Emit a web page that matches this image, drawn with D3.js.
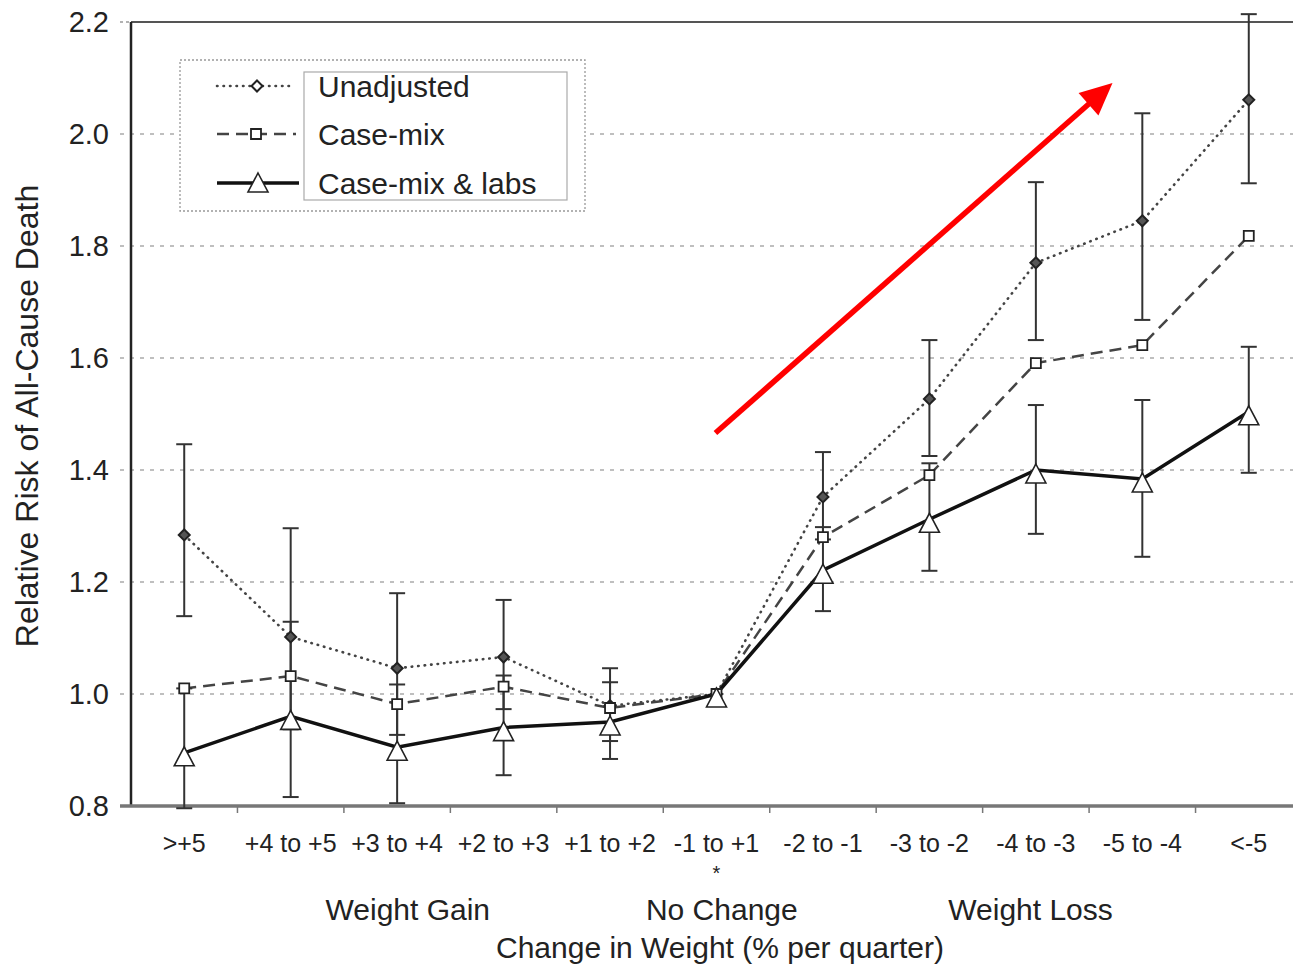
<!DOCTYPE html>
<html><head><meta charset="utf-8">
<script src="https://cdn.jsdelivr.net/npm/d3@7"></script>
<style>body{margin:0;background:#fff}svg{display:block}text{font-family:"Liberation Sans",Arial,sans-serif;fill:#222}</style>
</head><body><svg id="c" width="1293" height="969"></svg>
<script>
const categories = [">+5","+4 to +5","+3 to +4","+2 to +3","+1 to +2","-1 to +1","-2 to -1","-3 to -2","-4 to -3","-5 to -4","<-5"];
const unadjusted    = [1.284,1.102,1.046,1.066,0.979,1.0,1.352,1.527,1.770,1.845,2.061];
const unadjLower    = [1.139,0.937,0.927,0.973,0.916,null,1.276,1.425,1.632,1.668,1.912];
const unadjUpper    = [1.446,1.296,1.180,1.168,1.046,null,1.432,1.632,1.914,2.037,2.214];
const caseMix       = [1.010,1.032,0.982,1.013,0.975,1.0,1.280,1.391,1.591,1.623,1.818];
const caseMixLabs   = [0.895,0.960,0.905,0.940,0.950,1.0,1.221,1.312,1.400,1.384,1.504];
const cmlLower      = [0.796,0.816,0.805,0.855,0.884,null,1.148,1.220,1.286,1.245,1.395];
const cmlUpper      = [1.010,1.129,1.017,1.033,1.021,null,1.298,1.412,1.516,1.525,1.620];
const yTicks = [0.8,1.0,1.2,1.4,1.6,1.8,2.0,2.2];
const groupLabels = ["Weight Gain","No Change","Weight Loss"];
const groupAt = [2.1,5.05,7.95];
const legendLabels = ["Unadjusted","Case-mix","Case-mix & labs"];
const arrowFrom = [4.99,1.466], arrowTo = [8.72,2.091];

const svg = d3.select("#c");
const x = d3.scaleBand().domain(categories).range([131,1302]).padding(0);
const bw = x.bandwidth();
const cx = c => x(c)+bw/2;
const xi = d3.scaleLinear().domain([0,10]).range([cx(categories[0]), cx(categories[10])]);
const y = d3.scaleLinear().domain([0.8,2.2]).range([806,22]);

// gridlines
svg.append("g").selectAll("line").data(yTicks.filter(v=>v>0.81&&v<2.19)).join("line")
  .attr("x1",120).attr("x2",1293).attr("y1",d=>y(d)).attr("y2",d=>y(d))
  .attr("stroke","#aaa").attr("stroke-width",1.6).attr("stroke-dasharray","4,6");
// top border
svg.append("line").attr("x1",120).attr("x2",131).attr("y1",y(2.2)).attr("y2",y(2.2)).attr("stroke","#999").attr("stroke-width",1.5).attr("stroke-dasharray","3,3");
svg.append("line").attr("x1",131).attr("x2",1293).attr("y1",y(2.2)).attr("y2",y(2.2)).attr("stroke","#555").attr("stroke-width",2.2);
// left axis
svg.append("line").attr("x1",131).attr("x2",131).attr("y1",y(2.2)).attr("y2",y(0.8)+1).attr("stroke","#222").attr("stroke-width",2.5);
// bottom axis
svg.append("line").attr("x1",120).attr("x2",1293).attr("y1",y(0.8)).attr("y2",y(0.8)).attr("stroke","#777").attr("stroke-width",3.5);
svg.append("g").selectAll("line").data(categories.slice(1)).join("line")
  .attr("x1",d=>x(d)).attr("x2",d=>x(d)).attr("y1",y(0.8)).attr("y2",y(0.8)+7).attr("stroke","#777").attr("stroke-width",1.5);

// y tick labels
const yAx = svg.append("g").attr("transform","translate(109,0)").call(d3.axisLeft(y).tickValues(yTicks).tickFormat(d3.format(".1f")).tickSize(0).tickPadding(0));
yAx.select(".domain").remove();
yAx.selectAll("text").style("font-size","29px").style("font-family","'Liberation Sans',Arial,sans-serif").attr("fill","#222");

// x tick labels
svg.append("g").selectAll("text").data(categories).join("text")
  .attr("x",d=>cx(d)).attr("y",852).attr("text-anchor","middle").style("font-size","25px").text(d=>d);
svg.append("text").attr("x",cx(categories[5])).attr("y",880).attr("text-anchor","middle").style("font-size","20px").text("*");
svg.append("g").selectAll("text").data(groupLabels).join("text")
  .attr("x",(d,i)=>xi(groupAt[i])).attr("y",920).attr("text-anchor","middle").style("font-size","30px").text(d=>d);
svg.append("text").attr("x",720).attr("y",958).attr("text-anchor","middle").style("font-size","30px").text("Change in Weight (% per quarter)");
svg.append("text").attr("transform",`translate(38,${y(1.5)+2}) rotate(-90)`).attr("text-anchor","middle").style("font-size","32px").text("Relative Risk of All-Cause Death");

// lines
const line = d3.line().x((d,i)=>cx(categories[i])).y(d=>y(d));
svg.append("path").attr("d",line(unadjusted)).attr("fill","none").attr("stroke","#444").attr("stroke-width",2.6).attr("stroke-dasharray","0.5,6").attr("stroke-linecap","round");
svg.append("path").attr("d",line(caseMix)).attr("fill","none").attr("stroke","#444").attr("stroke-width",2.5).attr("stroke-dasharray","12,7");
svg.append("path").attr("d",line(caseMixLabs)).attr("fill","none").attr("stroke","#111").attr("stroke-width",3.5);

// error bars
function errBars(lo,hi){
  const g = svg.append("g").attr("stroke","#333").attr("stroke-width",2);
  categories.forEach((c,i)=>{
    if(lo[i]==null) return;
    const X = cx(c);
    g.append("line").attr("x1",X).attr("x2",X).attr("y1",y(lo[i])).attr("y2",y(hi[i]));
    g.append("line").attr("x1",X-8).attr("x2",X+8).attr("y1",y(lo[i])).attr("y2",y(lo[i]));
    g.append("line").attr("x1",X-8).attr("x2",X+8).attr("y1",y(hi[i])).attr("y2",y(hi[i]));
  });
}
errBars(unadjLower,unadjUpper);
errBars(cmlLower,cmlUpper);

// markers
const diamond = "M0,-5.5L5.5,0L0,5.5L-5.5,0Z";
const square = "M-5,-5H5V5H-5Z";
const tri = "M0,-6L10,13H-10Z";
function markers(vals,path,sw,fill){
  svg.append("g").selectAll("path").data(vals).join("path")
    .attr("transform",(d,i)=>`translate(${cx(categories[i])},${y(d)})`)
    .attr("d",path).attr("fill",fill).attr("stroke","#222").attr("stroke-width",sw);
}
markers(unadjusted,diamond,2,"#555");
markers(caseMix,square,1.8,"#fff");
markers(caseMixLabs,tri,1.6,"#fff");

// legend
const lg = svg.append("g");
lg.append("rect").attr("x",180).attr("y",60).attr("width",405).attr("height",151).attr("fill","#fff").attr("stroke","#999").attr("stroke-width",1.3).attr("stroke-dasharray","2,2");
lg.append("rect").attr("x",304).attr("y",72).attr("width",263).attr("height",128).attr("fill","none").attr("stroke","#aaa").attr("stroke-width",1.2);
const ly = [86,134,183];
lg.append("line").attr("x1",217).attr("x2",292).attr("y1",ly[0]).attr("y2",ly[0]).attr("stroke","#444").attr("stroke-width",2.6).attr("stroke-dasharray","0.5,6").attr("stroke-linecap","round");
lg.append("line").attr("x1",217).attr("x2",296).attr("y1",ly[1]).attr("y2",ly[1]).attr("stroke","#444").attr("stroke-width",2.5).attr("stroke-dasharray","12,7");
lg.append("line").attr("x1",217).attr("x2",299).attr("y1",ly[2]).attr("y2",ly[2]).attr("stroke","#111").attr("stroke-width",3.5);
lg.append("path").attr("transform",`translate(257,${ly[0]})`).attr("d",diamond).attr("fill","#fff").attr("stroke","#222").attr("stroke-width",2);
lg.append("path").attr("transform",`translate(256,${ly[1]})`).attr("d",square).attr("fill","#fff").attr("stroke","#222").attr("stroke-width",1.8);
lg.append("path").attr("transform",`translate(258,${ly[2]-4})`).attr("d",tri).attr("fill","#fff").attr("stroke","#222").attr("stroke-width",1.6);
lg.selectAll("text.l").data(legendLabels).join("text").attr("class","l")
  .attr("x",318).attr("y",(d,i)=>ly[i]+11).style("font-size","30px").text(d=>d);

// red arrow annotation
const ax1 = xi(arrowFrom[0]), ay1 = y(arrowFrom[1]), ax2 = xi(arrowTo[0]), ay2 = y(arrowTo[1]);
const ang = Math.atan2(ay2-ay1, ax2-ax1);
const hl = 32, hw = 15;
const bx = ax2 - hl*Math.cos(ang), by = ay2 - hl*Math.sin(ang);
svg.append("line").attr("x1",ax1).attr("y1",ay1).attr("x2",bx+3*Math.cos(ang)).attr("y2",by+3*Math.sin(ang)).attr("stroke","#f00").attr("stroke-width",5.5);
svg.append("path").attr("d",`M${ax2},${ay2}L${bx - hw*Math.sin(ang)},${by + hw*Math.cos(ang)}L${bx + hw*Math.sin(ang)},${by - hw*Math.cos(ang)}Z`).attr("fill","#f00");
</script></body></html>
